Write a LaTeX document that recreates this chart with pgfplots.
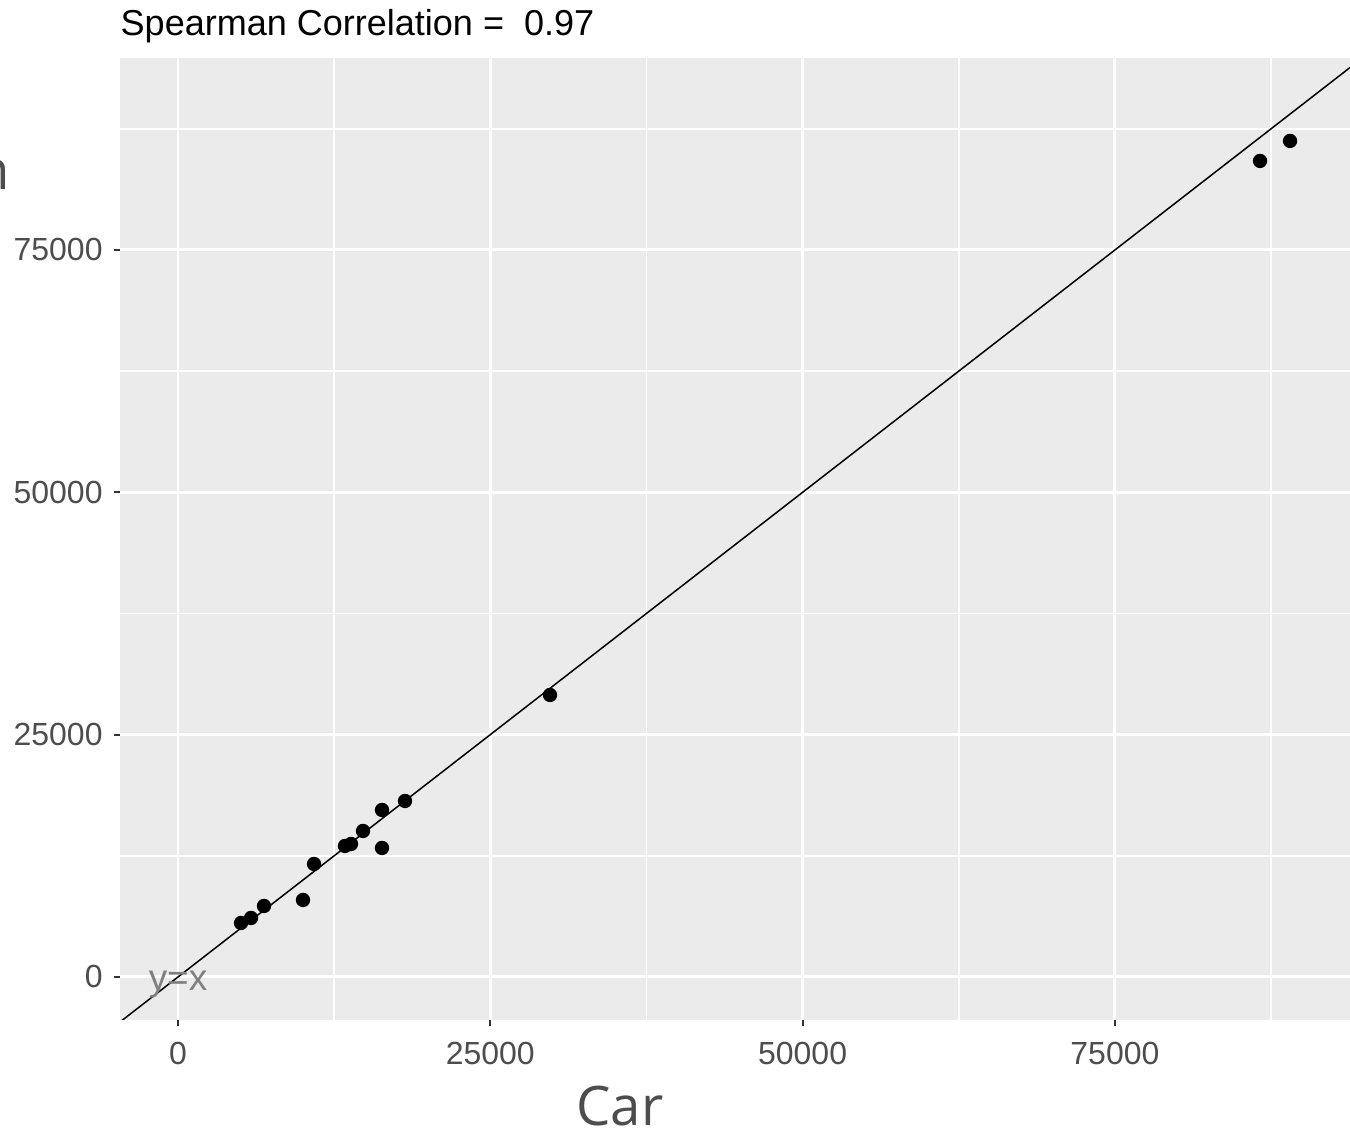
\documentclass[border=0pt]{standalone}
\usepackage{pgfplots}
\pgfplotsset{compat=1.18}
\usepackage{fontspec}
\setmainfont{Liberation Sans}
\newfontfamily\labfont{Open Sans}
\definecolor{panel}{HTML}{EBEBEB}
\definecolor{ticktext}{HTML}{4D4D4D}
\definecolor{tickcol}{HTML}{333333}
\begin{document}
\begin{tikzpicture}[x=1mm,y=1mm]
\useasboundingbox (0,0) rectangle (135,113.6);
\begin{axis}[
  at={(12mm,11.6mm)}, anchor=south west,
  scale only axis, width=123mm, height=96.2mm,
  xmin=-4643, xmax=93820, ymin=-4436, ymax=94810,
  axis background/.style={fill=panel},
  axis line style={draw=none},
  xtick={0,25000,50000,75000}, ytick={0,25000,50000,75000},
  minor xtick={12500,37500,62500,87500}, minor ytick={12500,37500,62500,87500},
  grid=both,
  major grid style={white, line width=0.85pt},
  minor grid style={white, line width=0.43pt},
  tick align=outside, tick pos=left,
  major tick length=0.6mm, minor tick length=0pt,
  tick style={tickcol, line width=0.6pt},
  scaled ticks=false,
  xticklabel={\pgfmathprintnumber[fixed,precision=0,1000 sep={}]{\tick}},
  yticklabel={\pgfmathprintnumber[fixed,precision=0,1000 sep={}]{\tick}},
  /pgf/number format/assume math mode=true,
  ticklabel style={font=\fontsize{9.1}{10}\selectfont, text=ticktext},
  xticklabel style={yshift=-0.4mm},
  yticklabel style={xshift=0.1mm},
  clip=true,
]
\addplot[black, line width=0.43pt] coordinates {(-6000,-6000) (96000,96000)};
\addplot[only marks, mark=*, mark size=1.84pt, black] coordinates {
(5043,5571) (5844,6087) (6884,7325) (10006,7944) (10887,11658)
(13368,13515) (13849,13721) (14810,15063) (16331,17229) (16331,13309)
(18172,18157) (29779,29093) (86616,84184) (89018,86248)
};
\node[text=gray, font=\fontsize{10.5}{12}\selectfont] at (axis cs:0,-800) {y=x};
\end{axis}
\node[anchor=base west, inner sep=0pt, font=\fontsize{10.25}{12}\selectfont] at (12,110) {Spearman Correlation =\ \ 0.97};
\node[anchor=base, inner sep=0pt, text=ticktext, font=\labfont\fontsize{15.5}{18}\selectfont] at (62,1.0) {Car};
\node[anchor=base east, inner sep=0pt, text=ticktext, font=\labfont\fontsize{15.5}{18}\selectfont] at (1.05,94.6) {n};
\end{tikzpicture}
\end{document}
